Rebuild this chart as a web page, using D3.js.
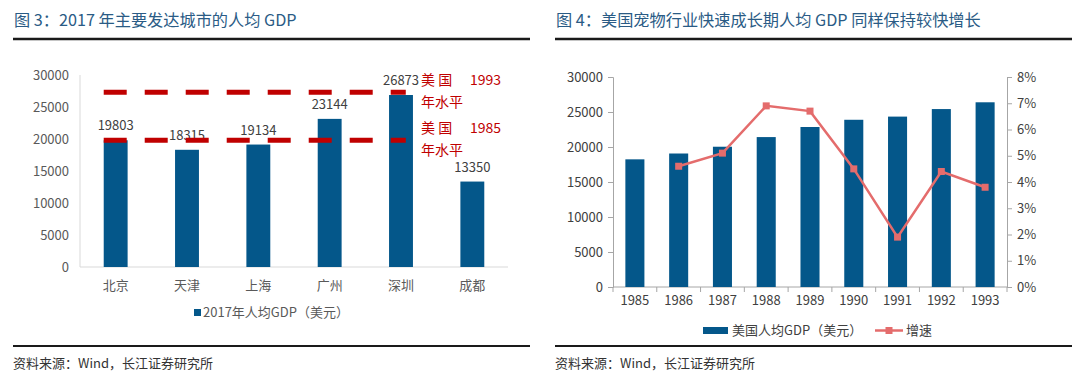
<!DOCTYPE html>
<html><head><meta charset="utf-8">
<script src="https://cdn.jsdelivr.net/npm/d3@7/dist/d3.min.js"></script>
<style>
body{margin:0;background:#fff;}
svg{display:block;}
text{font-family:"Noto Sans CJK SC","Noto Sans",sans-serif;}
</style></head>
<body>
<svg id="c" width="1080" height="391"></svg>
<script>
// ---- data: chart 3 ----
const cities = ["北京","天津","上海","广州","深圳","成都"];
const cityGDP = [19803, 18315, 19134, 23144, 26873, 13350];
const refLevels = [27300, 19800];
const refLabels = [["美 国", "1993", "年水平"], ["美 国", "1985", "年水平"]];
const leftTicks = [0, 5000, 10000, 15000, 20000, 25000, 30000];
// ---- data: chart 4 ----
const years = ["1985","1986","1987","1988","1989","1990","1991","1992","1993"];
const usGDP = [18237, 19071, 20039, 21417, 22857, 23889, 24342, 25419, 26387];
const growth = [null, 4.6, 5.1, 6.9, 6.7, 4.5, 1.9, 4.4, 3.8];
const rightTicksL = [0, 5000, 10000, 15000, 20000, 25000, 30000];
const rightTicksR = [0, 1, 2, 3, 4, 5, 6, 7, 8];

const svg = d3.select("#c");
const blue = "#04578A", red = "#C00000", pink = "#E46C6C", titleC = "#2A5B85";

// titles and rules
svg.append("text").attr("x",14).attr("y",26).attr("font-size",16.2).attr("fill",titleC).text("图 3：2017 年主要发达城市的人均 GDP");
svg.append("text").attr("x",556).attr("y",26).attr("font-size",16.2).attr("fill",titleC).text("图 4：美国宠物行业快速成长期人均 GDP 同样保持较快增长");
[[13,530],[555,1072]].forEach(([a,b])=>{
  svg.append("line").attr("x1",a).attr("x2",b).attr("y1",39).attr("y2",39).attr("stroke","#1a1a1a").attr("stroke-width",2.5);
  svg.append("line").attr("x1",a).attr("x2",b).attr("y1",346).attr("y2",346).attr("stroke","#1a1a1a").attr("stroke-width",2);
  svg.append("text").attr("x",a).attr("y",368).attr("font-size",13).attr("fill","#333").text("资料来源：Wind，长江证券研究所");
});

// ---- chart 3 ----
{
  const x = d3.scaleBand().domain(cities).range([80,508]).paddingInner(0.665).paddingOuter(0.3325);
  const y = d3.scaleLinear().domain([0,30000]).range([267,75]);
  const g = svg.append("g");
  g.append("line").attr("x1",80).attr("x2",80).attr("y1",75).attr("y2",267).attr("stroke","#d9d9d9");
  g.append("line").attr("x1",80).attr("x2",508).attr("y1",267).attr("y2",267).attr("stroke","#d9d9d9");
  g.selectAll(".yt").data(leftTicks).join("text").attr("x",69).attr("y",d=>y(d)+4.5)
    .attr("text-anchor","end").attr("font-size",13).attr("fill","#595959").text(d=>d);
  g.selectAll(".bar").data(cities).join("rect").attr("x",d=>x(d)).attr("width",x.bandwidth())
    .attr("y",(d,i)=>y(cityGDP[i])).attr("height",(d,i)=>y(0)-y(cityGDP[i])).attr("fill",blue);
  g.selectAll(".xl").data(cities).join("text").attr("x",d=>x(d)+x.bandwidth()/2).attr("y",290)
    .attr("text-anchor","middle").attr("font-size",13).attr("fill","#595959").text(d=>d);
  g.selectAll(".vl").data(cities).join("text").attr("x",d=>x(d)+x.bandwidth()/2).attr("y",(d,i)=>y(cityGDP[i])-10)
    .attr("text-anchor","middle").attr("font-size",13).attr("fill","#404040").text((d,i)=>cityGDP[i]);
  const x1 = x("北京"), x2 = x("深圳")+x.bandwidth()*0.7;
  refLevels.forEach((v,i)=>{
    g.append("line").attr("x1",x1).attr("x2",x2).attr("y1",y(v)).attr("y2",y(v))
      .attr("stroke",red).attr("stroke-width",5).attr("stroke-dasharray","23,18");
  });
  refLevels.forEach((v,i)=>{
    const ty = y(v)-12;
    g.append("text").attr("x",421).attr("y",ty+5).attr("font-size",14).attr("fill",red).text(refLabels[i][0]);
    g.append("text").attr("x",470).attr("y",ty+5).attr("font-size",14).attr("fill",red).text(refLabels[i][1]);
    g.append("text").attr("x",421).attr("y",ty+27).attr("font-size",14).attr("fill",red).text(refLabels[i][2]);
  });
  g.append("rect").attr("x",194).attr("y",309).attr("width",7).attr("height",7).attr("fill",blue);
  g.append("text").attr("x",203).attr("y",317).attr("font-size",13).attr("fill","#595959").text("2017年人均GDP（美元）");
}

// ---- chart 4 ----
{
  const x = d3.scaleBand().domain(years).range([613,1007]).paddingInner(0.565).paddingOuter(0.2825);
  const y = d3.scaleLinear().domain([0,30000]).range([287,77]);
  const y2 = d3.scaleLinear().domain([0,8]).range([287,77]);
  const g = svg.append("g");
  const ax = "#a6a6a6";
  g.append("g").attr("transform","translate(613,0)").call(d3.axisLeft(y).tickValues(rightTicksL).tickSize(5).tickFormat(d=>d))
    .call(s=>{s.select(".domain").attr("stroke",ax);s.selectAll("line").attr("stroke",ax);
      s.selectAll("text").attr("font-size",13).attr("fill","#404040").attr("font-family","'Noto Sans CJK SC',sans-serif").attr("x",-10);});
  g.append("g").attr("transform","translate(1007,0)").call(d3.axisRight(y2).tickValues(rightTicksR).tickSize(5).tickFormat(d=>d+"%"))
    .call(s=>{s.select(".domain").attr("stroke",ax);s.selectAll("line").attr("stroke",ax);
      s.selectAll("text").attr("font-size",13).attr("fill","#404040").attr("font-family","'Noto Sans CJK SC',sans-serif").attr("x",10);});
  g.append("line").attr("x1",613).attr("x2",1007).attr("y1",287).attr("y2",287).attr("stroke",ax);
  const step = x.step();
  d3.range(years.length+1).forEach(i=>{
    const xx = 613 + i*step;
    g.append("line").attr("x1",xx).attr("x2",xx).attr("y1",287).attr("y2",292).attr("stroke",ax);
  });
  g.selectAll(".bar").data(years).join("rect").attr("x",d=>x(d)).attr("width",x.bandwidth())
    .attr("y",(d,i)=>y(usGDP[i])).attr("height",(d,i)=>y(0)-y(usGDP[i])).attr("fill",blue);
  g.selectAll(".xl").data(years).join("text").attr("x",d=>x(d)+x.bandwidth()/2).attr("y",305)
    .attr("text-anchor","middle").attr("font-size",13).attr("fill","#404040").text(d=>d);
  const pts = years.map((d,i)=>({d,v:growth[i]})).filter(p=>p.v!=null);
  const line = d3.line().x(p=>x(p.d)+x.bandwidth()/2).y(p=>y2(p.v));
  g.append("path").attr("d",line(pts)).attr("fill","none").attr("stroke",pink).attr("stroke-width",2.5);
  g.selectAll(".mk").data(pts).join("rect").attr("x",p=>x(p.d)+x.bandwidth()/2-3.5).attr("y",p=>y2(p.v)-3.5)
    .attr("width",7).attr("height",7).attr("fill",pink);
  g.append("rect").attr("x",703).attr("y",327).attr("width",25).attr("height",7).attr("fill",blue);
  g.append("text").attr("x",732).attr("y",335).attr("font-size",13).attr("fill","#404040").text("美国人均GDP（美元）");
  g.append("line").attr("x1",875).attr("x2",903).attr("y1",330.5).attr("y2",330.5).attr("stroke",pink).attr("stroke-width",2.5);
  g.append("rect").attr("x",885.5).attr("y",327).attr("width",7).attr("height",7).attr("fill",pink);
  g.append("text").attr("x",906).attr("y",335).attr("font-size",13).attr("fill","#404040").text("增速");
}
</script>
</body></html>
